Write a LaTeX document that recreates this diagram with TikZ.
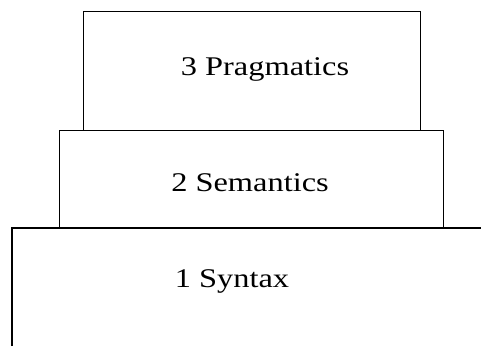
\documentclass[tikz,border=0pt]{standalone}
\usepackage{fontspec}
\setmainfont{Liberation Serif}
\usetikzlibrary{positioning}

\begin{document}
\begin{tikzpicture}[x=1pt,y=1pt,line width=1.4pt,
    layer/.style={draw,rectangle,inner sep=0pt},
    lbl/.style={anchor=base,inner sep=0pt,xscale=1.2,transform shape,font=\fontsize{27}{30}\selectfont}]
    \useasboundingbox (0,0) rectangle (481,346);
    % capas de la piramide
    \node[layer,minimum width=337pt,minimum height=119pt,anchor=south west] (prag) at (83,215) {};
    \node[layer,minimum width=384pt,minimum height=97pt,anchor=south west] (sem) at (59,118) {};
    \coordinate (synL) at (12,0);
    \coordinate (synTL) at (12,118);
    \coordinate (synTR) at (481,118);
    \draw (synL) -- (synTL) -- (synTR);

    % textos
    \node[lbl] (t3) at (265,270) {3 Pragmatics};
    \node[lbl] (t2) at (250,155) {2 Semantics};
    \node[lbl] (t1) at (232,59) {1 Syntax};
\end{tikzpicture}
\end{document}
